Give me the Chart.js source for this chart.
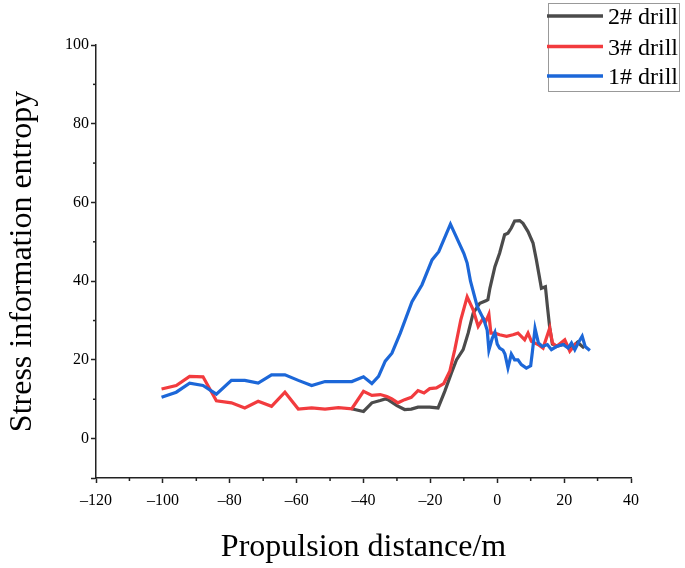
<!DOCTYPE html>
<html>
<head>
<meta charset="utf-8">
<script src="https://cdn.jsdelivr.net/npm/chart.js@4"></script>
<style>
  html, body { margin: 0; padding: 0; background: #fff; }
  #chart { display: block; }
</style>
</head>
<body>
<canvas id="chart" width="685" height="568"></canvas>
<script>
// tick labels
const xTicks = [-120, -100, -80, -60, -40, -20, 0, 20, 40];
const yTicks = [-10, 0, 20, 40, 60, 80, 100];
const xMinorTicks = [-110, -90, -70, -50, -30, -10, 10, 30];
const yMinorTicks = [10, 30, 50, 70, 90];

// series names (legend order)
const seriesNames = ['2# drill', '3# drill', '1# drill'];

// 2# drill
const drill2X = [-43.6, -40, -37.5, -35, -33.5, -32.7, -30, -27.7, -25.7, -23.7, -20.2, -17.7, -15.7, -13.7, -12.2, -10.2, -8.7, -7.2, -5.2, -3.4, -2.8, -2.2, -0.7, 0.7, 2.2, 3.2, 4.2, 5.2, 6.7, 7.7, 9.2, 10.7, 11.7, 12.5, 13.2, 14.4, 15, 15.7, 16.5, 18, 20, 22, 24, 26];
const drill2Y = [7.6, 6.9, 9.1, 9.7, 10.1, 9.9, 8.4, 7.4, 7.5, 8, 8, 7.8, 12, 16.7, 20, 22.6, 26.8, 31.9, 34.4, 35, 35.3, 38.2, 43.7, 47.1, 51.8, 52.2, 53.5, 55.3, 55.4, 54.7, 52.6, 49.7, 45.4, 41.6, 38.2, 38.6, 33.6, 28.1, 24, 23.5, 24, 23, 24.5, 23];

// 3# drill
const drill3X = [-100.4, -96, -92, -88, -84, -79.5, -75.5, -71.5, -67.5, -63.5, -59.5, -55.5, -51.5, -47.5, -43.5, -40, -37.5, -35, -33, -31.5, -29.7, -27.7, -25.7, -23.7, -21.9, -20.2, -18.2, -16, -14.2, -12.7, -10.9, -9, -7.2, -5.7, -4.2, -3.4, -2.5, -1.9, -0.7, 0.7, 2.8, 4.7, 6.2, 7.2, 8.2, 9.2, 10.2, 12.2, 13.7, 15.7, 16.5, 17.7, 20.2, 21.7, 23.7];
const drill3Y = [12.6, 13.5, 15.8, 15.7, 9.6, 9.1, 7.8, 9.5, 8.2, 11.8, 7.5, 7.8, 7.5, 7.9, 7.6, 12, 11, 11.2, 10.7, 10.1, 9.1, 9.9, 10.5, 12.2, 11.6, 12.7, 12.9, 14, 17.1, 22.6, 30.2, 36, 32.7, 28.5, 30.6, 29.8, 31.6, 26.8, 26.8, 26.4, 26, 26.4, 26.8, 26, 25.1, 26.8, 24.7, 23.9, 23, 28.1, 24.3, 23.4, 25.1, 22.2, 24.3];

// 1# drill
const drill1X = [-100.4, -96, -92, -88, -84, -79.5, -75.5, -71.5, -67.5, -63.5, -59.5, -55.5, -51.5, -47.5, -43.5, -40, -37.5, -35.5, -33.5, -31.5, -29, -25.5, -22.5, -19.5, -17.5, -14, -10, -9, -8, -6, -4, -3, -2.5, -1.5, -0.7, 0, 0.7, 1.7, 2.3, 3.2, 4.2, 5.2, 6.2, 7.2, 8.7, 10, 10.5, 11.3, 12.3, 13.5, 15, 16.2, 17.7, 19.7, 21.2, 22.2, 23.2, 24.2, 25.4, 26.3, 27.7];
const drill1Y = [10.5, 11.8, 14.1, 13.5, 11.3, 14.8, 14.8, 14.1, 16.2, 16.2, 14.8, 13.5, 14.5, 14.5, 14.5, 15.7, 14, 15.8, 19.7, 21.7, 26.8, 34.8, 39.1, 45.4, 47.5, 54.5, 47.1, 44.6, 40, 33.6, 30.2, 27.5, 22.5, 25.5, 27, 24, 23, 22.5, 21.5, 18, 21.5, 20, 20, 18.8, 17.9, 18.5, 22, 28, 24.3, 23.4, 23.9, 22.6, 23.4, 23.9, 23, 24.3, 22.6, 24.3, 26, 23.4, 22.4];

const colors = ['#4b4b4b', '#f23b3e', '#1c67d8'];
const serif = "'Liberation Serif', 'Times New Roman', serif";

function toPoints(xs, ys) {
    return xs.map((x, i) => ({ x: x, y: ys[i] }));
}

function fmtNum(v) {
    return v < 0 ? '\u2013' + Math.abs(v) : String(v);
}

// minor ticks + boxed legend
const extrasPlugin = {
    id: 'extras',
    afterDraw(chart) {
        const ctx = chart.ctx;
        const xs = chart.scales.x;
        const ys = chart.scales.y;
        ctx.save();
        ctx.strokeStyle = '#222';
        ctx.lineWidth = 1.5;
        xMinorTicks.forEach(v => {
            const px = xs.getPixelForValue(v);
            ctx.beginPath();
            ctx.moveTo(px, ys.bottom);
            ctx.lineTo(px, ys.bottom + 3);
            ctx.stroke();
        });
        yMinorTicks.forEach(v => {
            const py = ys.getPixelForValue(v);
            ctx.beginPath();
            ctx.moveTo(xs.left, py);
            ctx.lineTo(xs.left - 3, py);
            ctx.stroke();
        });

        // legend
        ctx.strokeStyle = '#999';
        ctx.lineWidth = 1;
        ctx.strokeRect(548.5, 3.5, 131, 88);
        const rows = [16, 46.5, 76];
        ctx.font = '24px ' + serif;
        ctx.textBaseline = 'middle';
        ctx.fillStyle = '#000';
        seriesNames.forEach((name, i) => {
            ctx.strokeStyle = colors[i];
            ctx.lineWidth = 3.5;
            ctx.beginPath();
            ctx.moveTo(547, rows[i]);
            ctx.lineTo(603, rows[i]);
            ctx.stroke();
            ctx.fillText(name, 608, rows[i] + 2);
        });
        ctx.restore();
    }
};

const seriesX = [drill2X, drill3X, drill1X];
const seriesY = [drill2Y, drill3Y, drill1Y];

const ctx = document.getElementById('chart');
const chart = new Chart(ctx.getContext('2d'), {
    type: 'line',
    data: {
        datasets: seriesNames.map((name, i) => ({
            label: name,
            data: toPoints(seriesX[i], seriesY[i]),
            borderColor: colors[i],
            backgroundColor: colors[i],
            borderWidth: 3.2,
            pointRadius: 0,
            tension: 0,
            fill: false,
            order: 3 - i
        }))
    },
    options: {
        responsive: false,
        animation: false,
        layout: {
            padding: { top: 45, right: 54, left: 0, bottom: 0 }
        },
        scales: {
            x: {
                type: 'linear',
                min: -120,
                max: 40,
                afterBuildTicks: s => { s.ticks = xTicks.map(v => ({ value: v })); },
                afterFit: s => { s.height = 90; },
                grid: {
                    drawOnChartArea: false,
                    drawTicks: true,
                    tickLength: 5,
                    tickWidth: 1.5,
                    tickColor: '#222'
                },
                border: { color: '#222', width: 1.5 },
                ticks: {
                    color: '#000',
                    padding: 8,
                    maxRotation: 0,
                    font: { family: serif, size: 16 },
                    callback: v => fmtNum(v)
                },
                title: {
                    display: true,
                    text: 'Propulsion distance/m',
                    color: '#000',
                    font: { family: serif, size: 32 },
                    padding: { top: 0, bottom: 1 }
                }
            },
            y: {
                type: 'linear',
                min: -10,
                max: 100,
                afterBuildTicks: s => { s.ticks = yTicks.map(v => ({ value: v })); },
                afterFit: s => { s.width = 96; },
                grid: {
                    drawOnChartArea: false,
                    drawTicks: true,
                    tickLength: 5,
                    tickWidth: 1.5,
                    tickColor: '#222'
                },
                border: { color: '#222', width: 1.5 },
                ticks: {
                    color: '#000',
                    padding: 2,
                    font: { family: serif, size: 16 },
                    callback: v => (v < 0 ? '' : fmtNum(v))
                },
                title: {
                    display: true,
                    text: 'Stress information entropy',
                    color: '#000',
                    font: { family: serif, size: 32 },
                    padding: { top: 3, bottom: 0 }
                }
            }
        },
        plugins: {
            legend: { display: false },
            tooltip: { enabled: false }
        }
    },
    plugins: [extrasPlugin]
});
</script>
</body>
</html>
